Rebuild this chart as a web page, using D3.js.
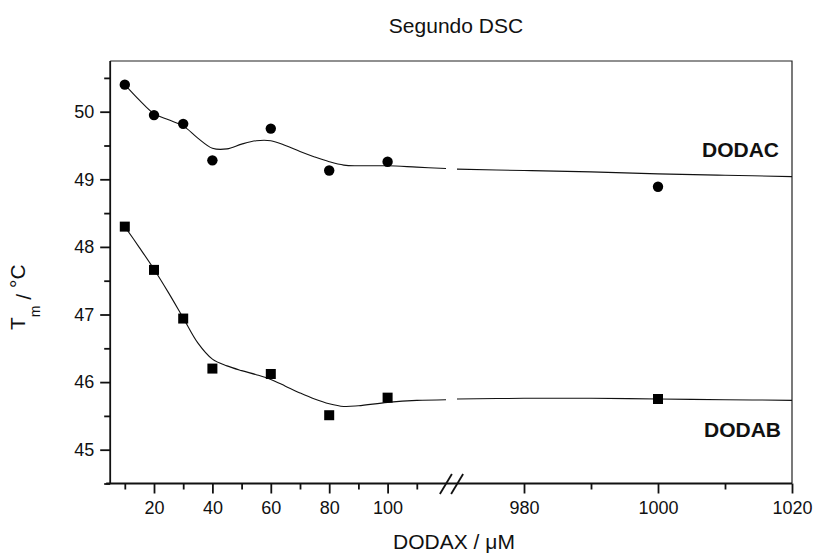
<!DOCTYPE html>
<html><head><meta charset="utf-8">
<script src="https://cdn.jsdelivr.net/npm/d3@7"></script>
<style>
html,body{margin:0;padding:0;background:#fff;}
text{font-family:"Liberation Sans",Arial,sans-serif;fill:#111;}
</style></head>
<body>
<svg id="chart" width="815" height="556"></svg>
<script>
// ---- data ----
const concX = [10, 20, 30, 40, 60, 80, 100, 1000];
const dodacTm = [50.40, 49.95, 49.82, 49.28, 49.75, 49.13, 49.26, 48.89];
const dodabTm = [48.30, 47.66, 46.94, 46.20, 46.12, 45.51, 45.77, 45.75];

// fitted smooth curves
const fitLeftX = [10, 15, 20, 25, 30, 35, 40, 45, 50, 55, 60, 65, 70, 75, 80, 85, 90, 100, 110, 120];
const dodacFitLeft = [50.40, 50.17, 49.97, 49.88, 49.79, 49.61, 49.46, 49.45, 49.52, 49.57, 49.57, 49.50, 49.41, 49.33, 49.26, 49.21, 49.20, 49.20, 49.18, 49.16];
const dodabFitLeft = [48.30, 47.99, 47.67, 47.32, 46.95, 46.58, 46.34, 46.24, 46.17, 46.11, 46.04, 45.94, 45.84, 45.75, 45.68, 45.64, 45.65, 45.70, 45.73, 45.74];
const fitRightX = [970, 980, 990, 1000, 1010, 1020];
const dodacFitRight = [49.15, 49.13, 49.11, 49.08, 49.06, 49.04];
const dodabFitRight = [45.75, 45.76, 45.76, 45.75, 45.74, 45.73];

const xMajorLeft = [20, 40, 60, 80, 100];
const xMinorLeft = [10, 30, 50, 70, 90, 110];
const xMajorRight = [980, 1000, 1020];
const xMinorRight = [990, 1010];
const yMajor = [45, 46, 47, 48, 49, 50];
const yMinor = [44.5, 45.5, 46.5, 47.5, 48.5, 49.5, 50.5];

const titleText = "Segundo DSC";
const xTitle = "DODAX / \u03BCM";
const seriesNames = ["DODAC", "DODAB"];

// ---- layout ----
const svg = d3.select("#chart");
const pLeft = 110.2, pRight = 792, pTop = 61, pBottom = 483.5;
const breakL = 446, breakR = 457;

const xL = d3.scaleLinear().domain([5, 120]).range([pLeft, breakL]);
const xR = d3.scaleLinear().domain([970, 1020]).range([breakR, pRight]);
const xAny = v => v > 500 ? xR(v) : xL(v);
const y = d3.scaleLinear().domain([44.5, 50.75]).range([pBottom, pTop]);
const fmt = d3.format("d");

// frame (top/right thin)
svg.append("path").attr("d", `M${pLeft},${pTop}H${pRight}V${pBottom}`)
  .attr("fill", "none").attr("stroke", "#222").attr("stroke-width", 1.2);

// axes
function styleAxis(g){
  g.select(".domain").remove();
  g.selectAll("line").attr("stroke", "#111").attr("stroke-width", 1.8);
  g.selectAll("text").style("font-size", "18px").attr("fill", "#111")
    .style("font-family", '"Liberation Sans",Arial,sans-serif');
}
const gx = svg.append("g").attr("transform", `translate(0,${pBottom})`);
gx.append("g").call(d3.axisBottom(xL).tickValues(xMajorLeft).tickFormat(fmt).tickSize(10).tickPadding(8)).call(styleAxis);
gx.append("g").call(d3.axisBottom(xL).tickValues(xMinorLeft).tickSize(6).tickFormat("")).call(styleAxis);
gx.append("g").call(d3.axisBottom(xR).tickValues(xMajorRight).tickFormat(fmt).tickSize(10).tickPadding(8)).call(styleAxis);
gx.append("g").call(d3.axisBottom(xR).tickValues(xMinorRight).tickSize(6).tickFormat("")).call(styleAxis);

const gy = svg.append("g").attr("transform", `translate(${pLeft},0)`);
gy.append("g").call(d3.axisLeft(y).tickValues(yMajor).tickFormat(fmt).tickSize(10).tickPadding(6)).call(styleAxis);
gy.append("g").call(d3.axisLeft(y).tickValues(yMinor).tickSize(6).tickFormat("")).call(styleAxis);

// axis lines
svg.append("line").attr("x1", pLeft - 4).attr("x2", pRight).attr("y1", pBottom).attr("y2", pBottom)
  .attr("stroke", "#111").attr("stroke-width", 1.8);
svg.append("line").attr("x1", pLeft).attr("x2", pLeft).attr("y1", pTop).attr("y2", pBottom)
  .attr("stroke", "#111").attr("stroke-width", 1.8);

// break marks
const bx = (breakL + breakR) / 2;
[-5.6, 5.6].forEach(o => {
  svg.append("line").attr("x1", bx + o - 6).attr("y1", pBottom + 10.5)
    .attr("x2", bx + o + 6).attr("y2", pBottom - 9.5)
    .attr("stroke", "#111").attr("stroke-width", 1.8);
});

// fitted curves
const lineL = d3.line().x(d => xL(d[0])).y(d => y(d[1])).curve(d3.curveCatmullRom.alpha(0.5));
const lineR = d3.line().x(d => xR(d[0])).y(d => y(d[1])).curve(d3.curveCatmullRom.alpha(0.5));
[[dodacFitLeft, dodacFitRight], [dodabFitLeft, dodabFitRight]].forEach(([fl, fr]) => {
  svg.append("path").attr("d", lineL(fitLeftX.map((v, i) => [v, fl[i]])))
    .attr("fill", "none").attr("stroke", "#111").attr("stroke-width", 1.1);
  svg.append("path").attr("d", lineR(fitRightX.map((v, i) => [v, fr[i]])))
    .attr("fill", "none").attr("stroke", "#111").attr("stroke-width", 1.1);
});

// markers
svg.append("g").selectAll("circle").data(concX.map((v, i) => [v, dodacTm[i]])).join("circle")
  .attr("cx", d => xAny(d[0])).attr("cy", d => y(d[1])).attr("r", 5.2).attr("fill", "#000");
const sq = 10;
svg.append("g").selectAll("rect").data(concX.map((v, i) => [v, dodabTm[i]])).join("rect")
  .attr("x", d => xAny(d[0]) - sq / 2).attr("y", d => y(d[1]) - sq / 2)
  .attr("width", sq).attr("height", sq).attr("fill", "#000");

// series labels
svg.append("text").attr("x", 779).attr("y", 157).attr("text-anchor", "end")
  .style("font-size", "21px").style("font-weight", "bold").text(seriesNames[0]);
svg.append("text").attr("x", 781).attr("y", 437).attr("text-anchor", "end")
  .style("font-size", "21px").style("font-weight", "bold").text(seriesNames[1]);

// title
svg.append("text").attr("x", 456).attr("y", 33).attr("text-anchor", "middle")
  .style("font-size", "21px").text(titleText);

// x title
svg.append("text").attr("x", 454).attr("y", 549).attr("text-anchor", "middle")
  .style("font-size", "21px").text(xTitle);

// y title
const yt = svg.append("text").attr("transform", "translate(25,330) rotate(-90)")
  .attr("x", 0).attr("y", 0).attr("text-anchor", "start").style("font-size", "21px");
yt.append("tspan").text("T");
yt.append("tspan").attr("dy", 15).style("font-size", "14px").text("m");
yt.append("tspan").attr("dy", -9).text(" / ");
yt.append("tspan").attr("dy", -6).text("\u00B0C");
</script>
</body></html>
